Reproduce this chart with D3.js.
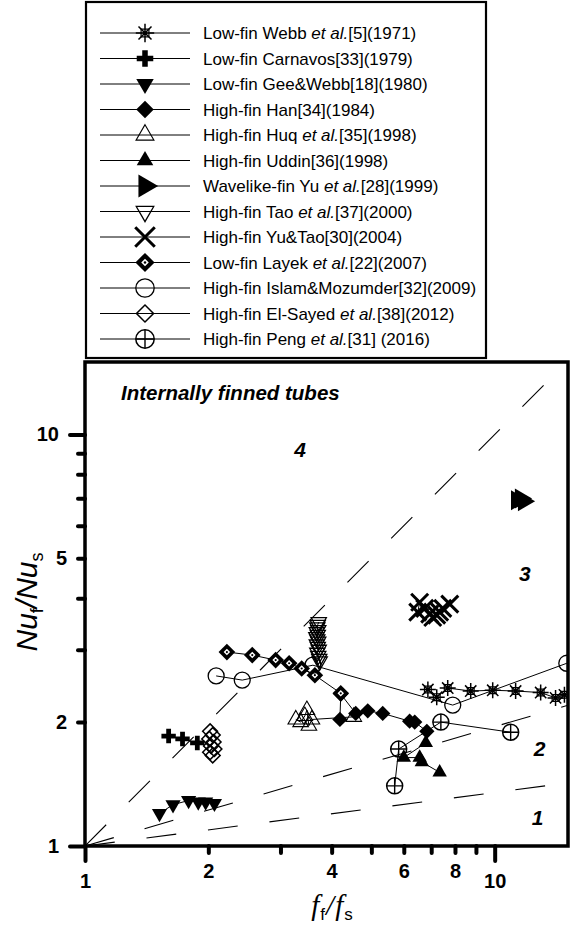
<!DOCTYPE html>
<html><head><meta charset="utf-8">
<script src="https://cdn.jsdelivr.net/npm/d3@7"></script>
<style>
body{margin:0;background:#fff;}
svg{display:block;font-family:Arial,"Liberation Sans",Helvetica,sans-serif;}
</style>
</head><body>
<svg id="c" width="570" height="926"></svg>
<script>
// ---------------- data ----------------
const seriesNames = [
  "Low-fin Webb *et al.*[5](1971)",
  "Low-fin Carnavos[33](1979)",
  "Low-fin Gee&Webb[18](1980)",
  "High-fin Han[34](1984)",
  "High-fin Huq *et al.*[35](1998)",
  "High-fin Uddin[36](1998)",
  "Wavelike-fin Yu *et al.*[28](1999)",
  "High-fin Tao *et al.*[37](2000)",
  "High-fin Yu&Tao[30](2004)",
  "Low-fin Layek *et al.*[22](2007)",
  "High-fin Islam&Mozumder[32](2009)",
  "High-fin El-Sayed *et al.*[38](2012)",
  "High-fin Peng *et al.*[31] (2016)"
];
const markerTypes = ["webb","plus","triDown","diamond","triOpen","triFill","triRight","triDownOpen","x","layek","circle","diamondOpen","peng"];

const webbX = [6.87,7.22,7.68,8.74,9.89,11.25,12.95,14.08,14.8];
const webbY = [2.40,2.30,2.42,2.38,2.39,2.38,2.36,2.29,2.33];
const carnavosX = [1.60,1.73,1.88];
const carnavosY = [1.85,1.82,1.78];
const geeWebbX = [1.52,1.64,1.79,1.89,1.97,2.07];
const geeWebbY = [1.20,1.26,1.29,1.28,1.28,1.27];
const hanX = [4.19,4.21,4.58,4.90,5.33,6.20,6.38,6.83];
const hanY = [2.03,2.34,2.10,2.13,2.10,2.01,2.00,1.90];
const huqX = [3.27,3.36,3.44,3.48,3.52,3.58,4.53];
const huqY = [2.03,2.00,2.07,2.14,1.96,2.03,2.06];
const uddinX = [6.79,6.00,6.56,6.64,7.34];
const uddinY = [1.78,1.64,1.64,1.60,1.51];
const yuX = [11.32,11.57,11.77];
const yuY = [6.92,6.99,6.88];
const taoX = [3.72,3.70,3.69,3.71,3.68,3.70,3.67,3.69,3.71,3.68,3.70,3.72,3.69,3.71,3.73,3.74];
const taoY = [3.50,3.45,3.40,3.35,3.31,3.26,3.22,3.18,3.14,3.09,3.05,3.00,2.95,2.90,2.85,2.81];
const yuTaoX = [6.56,6.49,6.75,6.94,7.06,7.22,7.34,7.47,7.77];
const yuTaoY = [3.91,3.70,3.78,3.66,3.59,3.64,3.70,3.78,3.87];
const layekX = [2.22,2.56,2.92,3.15,3.38,3.64,4.21];
const layekY = [2.96,2.91,2.83,2.78,2.70,2.60,2.35];
const islamX = [2.09,2.42,3.60,7.90,15.0];
const islamY = [2.59,2.53,2.75,2.20,2.78];
const elSayedX = [2.02,2.05,2.01,2.06,2.03,2.07,2.02,2.05];
const elSayedY = [1.90,1.86,1.82,1.79,1.75,1.72,1.69,1.66];
const pengX = [5.70,5.83,7.39,10.94];
const pengY = [1.40,1.72,2.00,1.89];

const refExponents = [1, 0.29, 0.13];   // boundary lines Nu ratio = (f ratio)^k
const regionLabels = ["4","3","2","1"];
const regionX = [3.35, 11.84, 12.88, 12.73];
const regionY = [9.19, 4.60, 1.73, 1.176];

const xDomain = [1, 15.1];
const yDomain = [1, 15];
const xMajor = [1,10], xMinor = [2,3,4,5,6,7,8,9], xLabels = [1,2,4,6,8,10];
const yMajor = [1,10], yMinor = [2,3,4,5,6,7,8,9], yLabels = [1,2,5,10];

const seriesX = [webbX,carnavosX,geeWebbX,hanX,huqX,uddinX,yuX,taoX,yuTaoX,layekX,islamX,elSayedX,pengX];
const seriesY = [webbY,carnavosY,geeWebbY,hanY,huqY,uddinY,yuY,taoY,yuTaoY,layekY,islamY,elSayedY,pengY];

// ---------------- layout ----------------
const svg = d3.select("#c");
const L = 85, R = 568, T = 362, B = 846;
const x = d3.scaleLog().domain(xDomain).range([L, R]);
const y = d3.scaleLog().domain(yDomain).range([B, T]);

svg.append("defs").append("clipPath").attr("id","plotclip")
  .append("rect").attr("x",L).attr("y",T).attr("width",R-L).attr("height",B-T);

// ---------------- markers ----------------
function drawMarker(g, type, k) {
  const P = (d, o) => g.append("path").attr("d", d)
     .attr("transform", o.rot ? `rotate(${o.rot})` : null)
     .attr("fill", o.fill || "none").attr("stroke", o.stroke || "none")
     .attr("stroke-width", o.sw || 0);
  const sym = (t, area) => d3.symbol(t, area * k * k)();
  const sq = s => { s *= k; return `M${-s/2},${-s/2}h${s}v${s}h${-s}Z`; };
  switch (type) {
    case "webb": {
      const r = 8*k, s = 3.4*k; let d = "";
      for (let i = 0; i < 4; i++) { const a = i*Math.PI/4;
        d += `M${-r*Math.cos(a)},${-r*Math.sin(a)}L${r*Math.cos(a)},${r*Math.sin(a)}`; }
      P(d, {stroke:"#000", sw:1.5});
      P(`M${-s},${-s}h${2*s}v${2*s}h${-2*s}Z`, {stroke:"#000", sw:1.2});
      break; }
    case "plus": P(sym(d3.symbolCross, 115), {fill:"#000"}); break;
    case "triDown": P(sym(d3.symbolTriangle, 100), {fill:"#000", rot:180}); break;
    case "diamond": P(sq(10.8), {fill:"#000", rot:45}); break;
    case "triOpen": P(sym(d3.symbolTriangle, 105), {stroke:"#000", sw:1.1}); break;
    case "triFill": P(sym(d3.symbolTriangle, 90), {fill:"#000"}); break;
    case "triRight": P(sym(d3.symbolTriangle, 170), {fill:"#000", rot:90}); break;
    case "triDownOpen": P(sym(d3.symbolTriangle, 100), {stroke:"#000", sw:1.3, rot:180}); break;
    case "x": { const r = 8.5*k;
      P(`M${-r},${-r}L${r},${r}M${-r},${r}L${r},${-r}`, {stroke:"#000", sw:3}); break; }
    case "layek":
      P(sq(11.8), {fill:"#000", rot:45});
      P(sq(4.6), {fill:"#fff", rot:45});
      g.append("circle").attr("r", 1.1*k).attr("fill", "#000");
      break;
    case "circle": g.append("circle").attr("r", 8*k).attr("fill","none").attr("stroke","#000").attr("stroke-width",1.3); break;
    case "diamondOpen": P(sq(10.5), {stroke:"#000", sw:1.5, rot:45}); break;
    case "peng": { const r = 8*k;
      g.append("circle").attr("r", r).attr("fill","none").attr("stroke","#000").attr("stroke-width",1.5);
      P(`M${-r},0H${r}M0,${-r}V${r}`, {stroke:"#000", sw:1.4}); break; }
  }
}

// ---------------- reference lines ----------------
const plot = svg.append("g").attr("clip-path","url(#plotclip)");
refExponents.forEach(kx => {
  const pts = [[1,1],[xDomain[1], Math.pow(xDomain[1], kx)]];
  plot.append("path")
    .attr("d", d3.line().x(d => x(d[0])).y(d => y(d[1]))(pts))
    .attr("fill","none").attr("stroke","#000").attr("stroke-width",1.1)
    .attr("stroke-dasharray","30,32");
});

// ---------------- series ----------------
const lineGen = d3.line().x(d => x(d[0])).y(d => y(d[1]));
const seriesData = seriesX.map((xs, i) => xs.map((v, j) => [v, seriesY[i][j]]));
seriesData.forEach(pts => {
  plot.append("path").attr("d", lineGen(pts)).attr("fill","none")
    .attr("stroke","#000").attr("stroke-width",1);
});
seriesData.forEach((pts, i) => {
  pts.forEach(p => {
    const g = plot.append("g").attr("transform", `translate(${x(p[0])},${y(p[1])})`);
    drawMarker(g, markerTypes[i], 1);
  });
});

// ---------------- texts inside plot ----------------
svg.append("text").attr("x",121).attr("y",400)
  .attr("font-size",20.5).attr("font-weight","bold").attr("font-style","italic")
  .text("Internally finned tubes");
regionLabels.forEach((t, i) => {
  svg.append("text").attr("x", x(regionX[i])).attr("y", y(regionY[i]))
    .attr("text-anchor","middle").attr("dy","0.36em")
    .attr("font-size",21).attr("font-weight","bold").attr("font-style","italic").text(t);
});

// ---------------- frame ----------------
svg.append("rect").attr("x",L).attr("y",T).attr("width",R-L).attr("height",B-T)
  .attr("fill","none").attr("stroke","#000").attr("stroke-width",3.5);

// ---------------- axes ----------------
function styleAxis(g) {
  g.select(".domain").remove();
  g.attr("font-family","Arial, 'Liberation Sans', sans-serif").attr("font-size",20).attr("font-weight","bold");
  g.selectAll(".tick line").attr("stroke","#000").attr("stroke-width",4).attr("stroke-linecap","round");
  g.selectAll(".tick text").attr("fill","#000");
}
const fmtX = v => xLabels.includes(v) ? String(v) : "";
const fmtY = v => yLabels.includes(v) ? String(v) : "";
svg.append("g").attr("transform",`translate(0,${B})`)
  .call(d3.axisBottom(x).tickValues(xMajor).tickSize(15).tickPadding(13).tickFormat(fmtX)).call(styleAxis);
svg.append("g").attr("transform",`translate(0,${B})`)
  .call(d3.axisBottom(x).tickValues(xMinor).tickSize(7).tickPadding(11).tickFormat(fmtX)).call(styleAxis);
svg.append("g").attr("transform",`translate(${L},0)`)
  .call(d3.axisLeft(y).tickValues(yMajor).tickSize(15).tickPadding(11).tickFormat(fmtY)).call(styleAxis);
svg.append("g").attr("transform",`translate(${L},0)`)
  .call(d3.axisLeft(y).tickValues(yMinor).tickSize(7).tickPadding(11).tickFormat(fmtY)).call(styleAxis);

// ---------------- axis titles ----------------
const yt = svg.append("text").attr("transform","translate(37,602) rotate(-90)")
  .attr("text-anchor","middle").attr("font-size",30);
yt.append("tspan").attr("font-style","italic").text("Nu");
yt.append("tspan").attr("font-size",18).attr("dy",6).text("f");
yt.append("tspan").attr("font-style","italic").attr("dy",-6).text("/Nu");
yt.append("tspan").attr("font-size",18).attr("dy",6).text("s");

const xt = svg.append("text").attr("x",332).attr("y",915).attr("text-anchor","middle")
  .attr("font-size",29);
const serif = "'Liberation Serif','Times New Roman',serif";
xt.append("tspan").attr("font-family",serif).attr("font-style","italic").text("f");
xt.append("tspan").attr("font-size",17).attr("dy",5).attr("dx",1).text("f");
xt.append("tspan").attr("font-family",serif).attr("font-style","italic").attr("dy",-5).attr("dx",1).text("/");
xt.append("tspan").attr("font-family",serif).attr("font-style","italic").attr("dx",1).text("f");
xt.append("tspan").attr("font-size",17).attr("dy",5).attr("dx",1).text("s");

// ---------------- legend ----------------
const lg = svg.append("g");
lg.append("rect").attr("x",86).attr("y",2).attr("width",400).attr("height",356)
  .attr("fill","#fff").attr("stroke","#000").attr("stroke-width",2.2);
seriesNames.forEach((name, i) => {
  const ry = 33 + i * 25.5;
  lg.append("line").attr("x1",100).attr("x2",190).attr("y1",ry).attr("y2",ry)
    .attr("stroke","#000").attr("stroke-width",1);
  const g = lg.append("g").attr("transform",`translate(145,${ry})`);
  drawMarker(g, markerTypes[i], 1.15);
  const t = lg.append("text").attr("x",203).attr("y",ry+6).attr("font-size",17);
  name.split("*").forEach((part, j) => {
    if (part) t.append("tspan").attr("font-style", j % 2 ? "italic" : null).text(part);
  });
});
</script>
</body></html>
